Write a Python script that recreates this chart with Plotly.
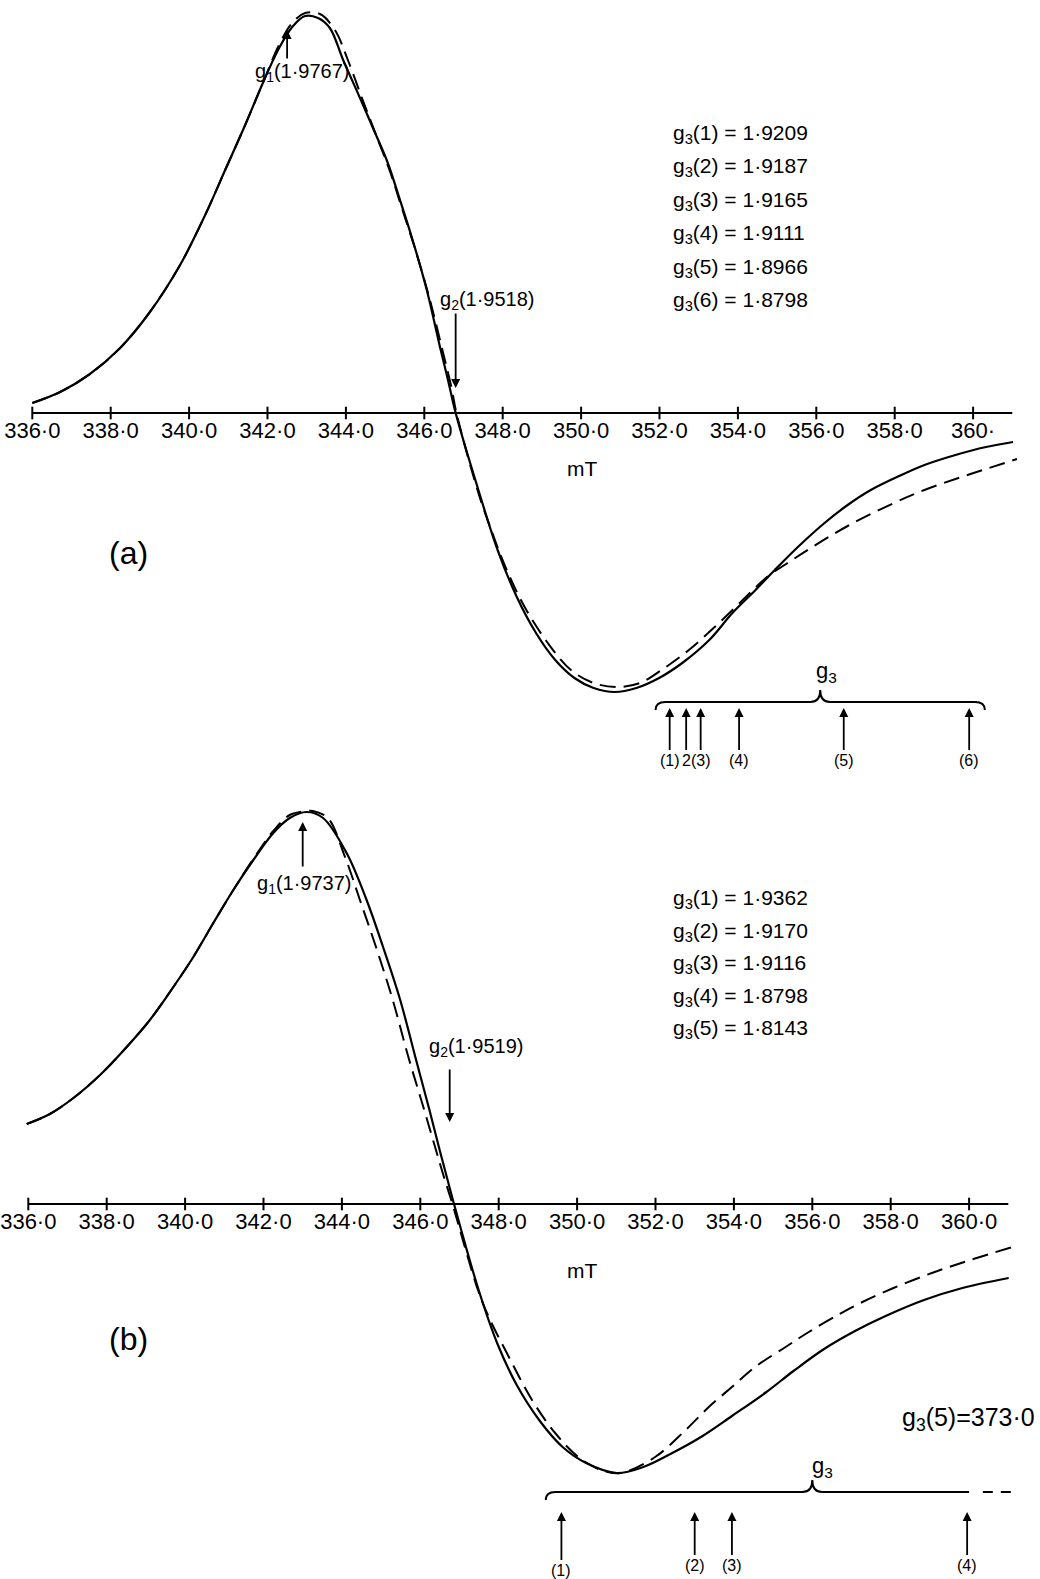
import plotly.graph_objects as go

# ---------------- data ----------------
# field in mT, derivative signal in arbitrary units (0 = baseline)
a_solid_B = [336.00, 336.71, 337.47, 338.24, 339.00, 339.77, 340.41, 340.92, 341.43, 341.86,
             342.27, 342.63, 342.96, 343.29, 343.59, 343.93, 344.36, 344.69, 345.05, 345.38,
             345.71, 346.07, 346.40, 346.61, 346.80, 347.38, 347.87, 348.36, 348.85, 349.34,
             349.83, 350.32, 350.86, 351.41, 351.99, 352.58, 353.27, 353.86, 354.45, 354.94,
             355.53, 356.21, 356.80, 357.39, 358.17, 358.76, 359.55, 360.33, 361.02]
a_solid_I = [10, 21, 39, 65, 101, 148, 198, 243, 288, 328,
             363, 386, 397, 395, 385, 353, 315, 285, 252, 213,
             172, 122, 66, 32, 0, -77, -137, -184, -220, -247,
             -265, -275, -279, -275, -265, -250, -227, -200, -177, -157,
             -134, -110, -92, -77, -62, -52, -42, -34, -29]

a_dash_B = [336.00, 336.71, 337.47, 338.24, 339.00, 339.77, 340.41, 340.92, 341.43, 341.86,
            342.27, 342.63, 342.96, 343.34, 343.72, 344.05, 344.41, 344.77, 345.13, 345.46,
            345.79, 346.15, 346.48, 346.69, 346.82, 347.38, 347.68, 348.07, 348.56, 349.15,
            349.74, 350.32, 350.91, 351.50, 352.09, 352.78, 353.46, 354.15, 354.74, 355.23,
            355.82, 356.80, 357.98, 358.76, 359.55, 360.33, 361.12]
a_dash_I = [10, 21, 39, 65, 101, 148, 198, 243, 288, 328,
            366, 390, 400, 399, 383, 353, 315, 278, 241, 201,
            161, 112, 60, 26, 0, -80, -114, -154, -194, -230,
            -257, -270, -274, -270, -256, -236, -212, -186, -164, -151,
            -136, -113, -90, -77, -66, -56, -46]

b_solid_B = [335.96, 336.55, 337.15, 337.83, 338.51, 339.10, 339.70, 340.21, 340.72, 341.23,
             341.74, 342.25, 342.67, 343.10, 343.52, 344.12, 344.63, 345.05, 345.48, 345.90,
             346.24, 346.50, 346.71, 346.86, 347.48, 347.97, 348.46, 349.05, 349.63, 350.23,
             351.01, 351.69, 352.38, 353.16, 353.95, 354.83, 355.52, 356.30, 357.09, 357.87,
             358.85, 359.83, 361.01]
b_solid_I = [80, 90, 106, 129, 157, 184, 217, 247, 281, 314,
             344, 371, 386, 392, 386, 351, 304, 257, 205, 143,
             93, 53, 22, 0, -85, -140, -181, -217, -243, -259,
             -269, -263, -250, -233, -212, -188, -167, -145, -127, -112,
             -96, -84, -74]

b_dash_B = [335.96, 336.55, 337.15, 337.83, 338.51, 339.10, 339.70, 340.21, 340.72, 341.23,
            341.74, 342.25, 342.67, 343.10, 343.26, 343.64, 344.08, 344.46, 344.87, 345.29,
            345.71, 346.07, 346.37, 346.58, 346.82, 347.48, 347.77, 348.26, 348.85, 349.44,
            350.03, 350.61, 351.11, 351.99, 352.77, 353.36, 353.95, 354.54, 355.32, 355.91,
            356.70, 357.28, 358.07, 359.05, 360.03, 361.11]
b_dash_I = [80, 90, 106, 129, 157, 184, 217, 247, 281, 314,
            345, 373, 389, 393, 393, 386, 347, 304, 257, 205,
            145, 98, 58, 30, 0, -87, -115, -153, -196, -229,
            -253, -266, -269, -253, -226, -203, -183, -163, -143, -128,
            -110, -98, -84, -69, -56, -43]

tick_vals = [336, 338, 340, 342, 344, 346, 348, 350, 352, 354, 356, 358, 360]
tick_text_a = ["336·0", "338·0", "340·0", "342·0", "344·0", "346·0", "348·0",
               "350·0", "352·0", "354·0", "356·0", "358·0", "360·"]
tick_text_b = ["336·0", "338·0", "340·0", "342·0", "344·0", "346·0", "348·0",
               "350·0", "352·0", "354·0", "356·0", "358·0", "360·0"]
axis_span = [336.0, 361.0]

g1_a, g2_a = "1·9767", "1·9518"
g1_a_B, g2_a_B = 342.5, 346.8
g1_b, g2_b = "1·9737", "1·9519"
g1_b_B, g2_b_B = 343.0, 346.75

g3_a_vals = ["1·9209", "1·9187", "1·9165", "1·9111", "1·8966", "1·8798"]
g3_b_vals = ["1·9362", "1·9170", "1·9116", "1·8798", "1·8143"]
g3_a_B = [352.26, 352.68, 353.05, 354.03, 356.70, 359.90]
g3_a_lbl = ["(1)", "2", "(3)", "(4)", "(5)", "(6)"]
g3_b_B = [349.60, 353.00, 353.95, 359.95]
g3_b_lbl = ["(1)", "(2)", "(3)", "(4)"]
g3_b5_field = "373·0"

# ---------------- layout helpers ----------------
W, H = 1040, 1579
FONT = "Liberation Sans, Arial, sans-serif"
AX_A, AX_B = 413, 1204            # baseline pixel rows
YR_A = [AX_A - H / 2, AX_A]        # 1 unit = 1 px
YR_B = [AX_B - H, AX_B - H / 2]
px_per_mT = 39.2
XR_A = [336 - 32.3 / px_per_mT, 336 + (W - 32.3) / px_per_mT]
XR_B = [336 - 28.3 / px_per_mT, 336 + (W - 28.3) / px_per_mT]


def pos(dom, rng):
    return dom[0] + (0 - rng[0]) / (rng[1] - rng[0]) * (dom[1] - dom[0])


fig = go.Figure()

black = "black"
for (xa, ya, sB, sI, dB, dI) in [("x", "y", a_solid_B, a_solid_I, a_dash_B, a_dash_I),
                                 ("x2", "y2", b_solid_B, b_solid_I, b_dash_B, b_dash_I)]:
    # baseline (field axis)
    fig.add_trace(go.Scatter(x=axis_span, y=[0, 0], mode="lines", xaxis=xa, yaxis=ya,
                             line=dict(color=black, width=2.2), hoverinfo="skip", showlegend=False))
    fig.add_trace(go.Scatter(x=tick_vals, y=[0] * len(tick_vals), mode="markers", xaxis=xa, yaxis=ya,
                             marker=dict(symbol="line-ns", size=9, line=dict(color=black, width=2)),
                             hoverinfo="skip", showlegend=False))
    fig.add_trace(go.Scatter(x=dB, y=dI, mode="lines", xaxis=xa, yaxis=ya,
                             line=dict(color=black, width=2, dash="16px,8px", shape="spline", smoothing=1),
                             hoverinfo="skip", showlegend=False))
    fig.add_trace(go.Scatter(x=sB, y=sI, mode="lines", xaxis=xa, yaxis=ya,
                             line=dict(color=black, width=2.2, shape="spline", smoothing=1),
                             hoverinfo="skip", showlegend=False))

ann = []


def P(px, py):
    return px / W, 1 - py / H


def text(px, py, s, size=21, xanchor="center"):
    x, y = P(px, py)
    ann.append(dict(x=x, y=y, xref="paper", yref="paper", text=s, showarrow=False,
                    font=dict(size=size, color=black, family=FONT), xanchor=xanchor, yanchor="middle"))


def arrow(xr, yr, x, y_head, y_tail, width=1.8):
    ann.append(dict(x=x, y=y_head, ax=x, ay=y_tail, xref=xr, yref=yr, axref=xr, ayref=yr,
                    text="", showarrow=True, arrowhead=2, arrowsize=1, arrowwidth=width,
                    arrowcolor=black))


def arrow_lbl(xr, yr, x, y_head, y_lbl, s, size=16):
    ann.append(dict(x=x, y=y_head, ax=x, ay=y_lbl, xref=xr, yref=yr, axref=xr, ayref=yr,
                    text=s, showarrow=True, arrowhead=2, arrowsize=1, arrowwidth=1.8,
                    arrowcolor=black, font=dict(size=size, color=black, family=FONT)))


# ---- panel (a) ----
text(302, 72, f"g<sub>1</sub>({g1_a})", 20)
arrow("x", "y", g1_a_B, AX_A - 30, AX_A - 60)
text(487, 300, f"g<sub>2</sub>({g2_a})", 20)
arrow("x", "y", g2_a_B, AX_A - 388, AX_A - 312)
for i, v in enumerate(g3_a_vals):
    text(671, 134 + i * 33.4, f"g<sub>3</sub>({i + 1}) = {v}", 21, "left")
text(582, 468, "mT", 21)
text(128, 553, "(a)", 32)
text(826, 672, "g<sub>3</sub>", 22)
for B, s in zip(g3_a_B, g3_a_lbl):
    arrow_lbl("x", "y", B, AX_A - 708, AX_A - 760, s)

# ---- panel (b) ----
text(304, 884, f"g<sub>1</sub>({g1_b})", 20)
arrow("x2", "y2", g1_b_B, AX_B - 822, AX_B - 868)
text(476, 1047, f"g<sub>2</sub>({g2_b})", 20)
arrow("x2", "y2", g2_b_B, AX_B - 1122, AX_B - 1068)
for i, v in enumerate(g3_b_vals):
    text(671, 899 + i * 32.5, f"g<sub>3</sub>({i + 1}) = {v}", 21, "left")
text(582, 1270, "mT", 21)
text(128, 1339, "(b)", 32)
text(822, 1467, "g<sub>3</sub>", 22)
text(1037, 1419, f"g<sub>3</sub>(5)={g3_b5_field}", 25, "right")
for B, s in zip(g3_b_B, g3_b_lbl):
    lbl_py = 1570 if s == "(1)" else 1565
    arrow_lbl("x2", "y2", B, AX_B - 1512, AX_B - lbl_py, s)


def brace(xr, yr, x0, x1, xc, yl, ye, yt, d=0.25):
    p = (f"M {x0},{ye} Q {x0},{yl} {x0 + d},{yl} L {xc - d},{yl} Q {xc},{yl} {xc},{yt} "
         f"Q {xc},{yl} {xc + d},{yl} L {x1 - d},{yl} Q {x1},{yl} {x1},{ye}")
    return dict(type="path", path=p, xref=xr, yref=yr, line=dict(color=black, width=2))


shapes = [
    brace("x", "y", 351.9, 360.3, 356.1, AX_A - 702, AX_A - 710, AX_A - 690),
    dict(type="path", xref="x2", yref="y2", line=dict(color=black, width=2),
         path=(f"M 349.2,{AX_B - 1500} Q 349.2,{AX_B - 1492} 349.45,{AX_B - 1492} "
               f"L 355.75,{AX_B - 1492} Q 356.0,{AX_B - 1492} 356.0,{AX_B - 1480} "
               f"Q 356.0,{AX_B - 1492} 356.25,{AX_B - 1492} L 360.0,{AX_B - 1492}")),
    dict(type="line", xref="x2", yref="y2", x0=360.35, x1=361.1, y0=AX_B - 1492, y1=AX_B - 1492,
         line=dict(color=black, width=2, dash="10px,8px")),
]

axis_common = dict(showgrid=False, zeroline=False, showline=False, ticks="",
                   tickvals=tick_vals, tickfont=dict(size=22, color=black, family=FONT),
                   ticklabelstandoff=2, ticklabeloverflow="allow", automargin=False,
                   fixedrange=True)

fig.update_layout(
    width=W, height=H, margin=dict(l=0, r=0, t=0, b=0, pad=0, autoexpand=False),
    paper_bgcolor="white", plot_bgcolor="white", showlegend=False,
    font=dict(family=FONT, color=black), hovermode=False,
    xaxis=dict(domain=[0, 1], range=XR_A, anchor="free", position=pos([0.5, 1], YR_A),
               ticktext=tick_text_a, **axis_common),
    yaxis=dict(domain=[0.5, 1], range=YR_A, visible=False, automargin=False, fixedrange=True),
    xaxis2=dict(domain=[0, 1], range=XR_B, anchor="free", position=pos([0, 0.5], YR_B),
                ticktext=tick_text_b, **axis_common),
    yaxis2=dict(domain=[0, 0.5], range=YR_B, visible=False, automargin=False, fixedrange=True),
    annotations=ann, shapes=shapes,
)

fig.write_html("out.html", config={"displayModeBar": False, "staticPlot": True},
               post_script="document.body.style.margin='0px';document.body.style.overflow='hidden';")
